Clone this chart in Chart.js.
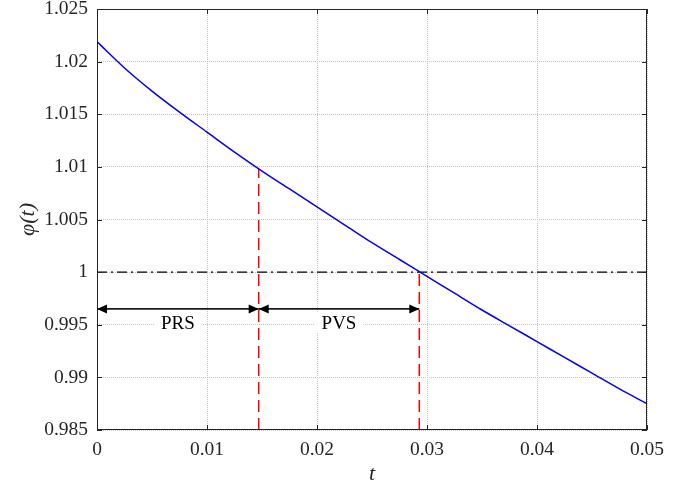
<!DOCTYPE html>
<html>
<head>
<meta charset="utf-8">
<script src="https://cdn.jsdelivr.net/npm/chart.js@4.4.1/dist/chart.umd.min.js"></script>
<style>
  html, body { margin: 0; padding: 0; background: #fff; }
  #wrap { width: 688px; height: 487px; }
</style>
</head>
<body>
<div id="wrap"><canvas id="myChart"></canvas></div>
<script>
// curve phi(t)
var tVals = [0, 0.0025, 0.005, 0.0075, 0.01, 0.0125, 0.015, 0.0175, 0.02, 0.0225, 0.025,
             0.0275, 0.03, 0.0325, 0.035, 0.0375, 0.04, 0.0425, 0.045, 0.0475, 0.05];
var phiVals = [1.0219, 1.0194, 1.0172, 1.0152, 1.0133, 1.0114, 1.0096, 1.0079, 1.0062, 1.0045, 1.0028,
               1.0012, 0.9996, 0.9980, 0.9964, 0.9949, 0.9934, 0.9919, 0.9904, 0.9889, 0.9875];

var xTicks = [0, 0.01, 0.02, 0.03, 0.04, 0.05];
var xTickLabels = ['0', '0.01', '0.02', '0.03', '0.04', '0.05'];
var yTicks = [0.985, 0.99, 0.995, 1, 1.005, 1.01, 1.015, 1.02, 1.025];
var yTickLabels = ['0.985', '0.99', '0.995', '1', '1.005', '1.01', '1.015', '1.02', '1.025'];

// red dashed markers and the phi = 1 reference
var markT = [0.0147, 0.0293];
var markPhi = [1.0098, 1.0];
var refPhi = 1;

// double arrows and their names
var spanStart = [0, 0.0147];
var spanEnd = [0.0147, 0.0293];
var spanNames = ['PRS', 'PVS'];
var arrowPhi = 0.9965;
var spanLabelPhi = 0.9952;

var xMin = 0, xMax = 0.05, yMin = 0.985, yMax = 1.025;
var axisColor = '#262626';
var serif = '"Liberation Serif", "Times New Roman", serif';

var datasets = [];
datasets.push({
    data: tVals.map(function (t, i) { return { x: t, y: phiVals[i] }; }),
    borderColor: '#0000ff', borderWidth: 1.5, cubicInterpolationMode: 'monotone'
});
datasets.push({
    data: [{ x: xMin, y: refPhi }, { x: xMax, y: refPhi }],
    borderColor: '#000', borderWidth: 1.2, borderDash: [10, 4, 2, 4]
});
markT.forEach(function (t, i) {
    datasets.push({
        data: [{ x: t, y: yMin }, { x: t, y: markPhi[i] }],
        borderColor: '#ff0000', borderWidth: 1.5, borderDash: [12, 6]
    });
});
spanStart.forEach(function (s, i) {
    datasets.push({
        data: [{ x: s, y: arrowPhi }, { x: spanEnd[i], y: arrowPhi }],
        borderColor: '#1a1a1a', borderWidth: 1.8
    });
});

function arrowHead(ctx, x, y, dir) {
    var len = 10, half = 4.5;
    ctx.beginPath();
    ctx.moveTo(x, y);
    ctx.lineTo(x - dir * len, y - half);
    ctx.lineTo(x - dir * len, y + half);
    ctx.closePath();
    ctx.fill();
}

var decor = {
    id: 'decor',
    afterDatasetsDraw: function (chart) {
        var ctx = chart.ctx, a = chart.chartArea;
        var xs = chart.scales.x, ys = chart.scales.y;
        ctx.save();
        ctx.setLineDash([]);

        // arrow heads
        ctx.fillStyle = '#000';
        var ay = ys.getPixelForValue(arrowPhi);
        for (var i = 0; i < spanStart.length; i++) {
            arrowHead(ctx, xs.getPixelForValue(spanStart[i]), ay, -1);
            arrowHead(ctx, xs.getPixelForValue(spanEnd[i]), ay, 1);
        }

        // span names on white boxes
        ctx.font = '19px ' + serif;
        ctx.textAlign = 'center';
        ctx.textBaseline = 'middle';
        var cy = ys.getPixelForValue(spanLabelPhi);
        for (var j = 0; j < spanNames.length; j++) {
            var cx = xs.getPixelForValue((spanStart[j] + spanEnd[j]) / 2);
            var w = ctx.measureText(spanNames[j]).width + 14;
            ctx.fillStyle = '#fff';
            ctx.fillRect(cx - w / 2, cy - 10, w, 20);
            ctx.fillStyle = '#000';
            ctx.fillText(spanNames[j], cx, cy + 1);
        }

        // box and inward ticks
        ctx.strokeStyle = axisColor;
        ctx.lineWidth = 1;
        ctx.strokeRect(a.left + 0.5, a.top + 0.5, a.right - a.left - 1, a.bottom - a.top - 1);
        ctx.beginPath();
        xTicks.forEach(function (v) {
            var px = Math.round(xs.getPixelForValue(v)) + 0.5;
            ctx.moveTo(px, a.bottom); ctx.lineTo(px, a.bottom - 5);
            ctx.moveTo(px, a.top); ctx.lineTo(px, a.top + 5);
        });
        yTicks.forEach(function (v) {
            var py = Math.round(ys.getPixelForValue(v)) + 0.5;
            ctx.moveTo(a.left, py); ctx.lineTo(a.left + 5, py);
            ctx.moveTo(a.right, py); ctx.lineTo(a.right - 5, py);
        });
        ctx.stroke();
        ctx.restore();
    }
};

new Chart(document.getElementById('myChart'), {
    type: 'scatter',
    data: { datasets: datasets },
    options: {
        responsive: true,
        maintainAspectRatio: false,
        animation: false,
        showLine: true,
        elements: { point: { radius: 0 }, line: { tension: 0, fill: false } },
        layout: { padding: { top: 9, right: 41, left: 0, bottom: 0 } },
        plugins: { legend: { display: false }, tooltip: { enabled: false } },
        scales: {
            x: {
                type: 'linear', min: xMin, max: xMax,
                afterBuildTicks: function (s) { s.ticks = xTicks.map(function (v) { return { value: v }; }); },
                afterFit: function (s) { s.height = 57; s.paddingLeft = 0; s.paddingRight = 0; },
                grid: { color: '#c4c4c4', lineWidth: 1, drawTicks: false },
                border: { display: false, dash: [1, 1] },
                ticks: {
                    color: axisColor, padding: 8, maxRotation: 0,
                    font: { family: serif, size: 19.5 },
                    callback: function (v, i) { return xTickLabels[i]; }
                },
                title: {
                    display: true, text: 't', color: axisColor,
                    font: { family: serif, size: 22, style: 'italic' },
                    padding: { top: 0, bottom: 0 }
                }
            },
            y: {
                type: 'linear', min: yMin, max: yMax,
                afterBuildTicks: function (s) { s.ticks = yTicks.map(function (v) { return { value: v }; }); },
                afterFit: function (s) { s.width = 97; s.paddingTop = 0; s.paddingBottom = 0; },
                grid: { color: '#c4c4c4', lineWidth: 1, drawTicks: false },
                border: { display: false, dash: [1, 1] },
                ticks: {
                    color: axisColor, padding: 9,
                    font: { family: serif, size: 19.5 },
                    callback: function (v, i) { return yTickLabels[i]; }
                },
                title: {
                    display: true, text: 'φ(t)', color: axisColor,
                    font: { family: serif, size: 22, style: 'italic' },
                    padding: { top: 15, bottom: 0 }
                }
            }
        }
    },
    plugins: [decor]
});
</script>
</body>
</html>
